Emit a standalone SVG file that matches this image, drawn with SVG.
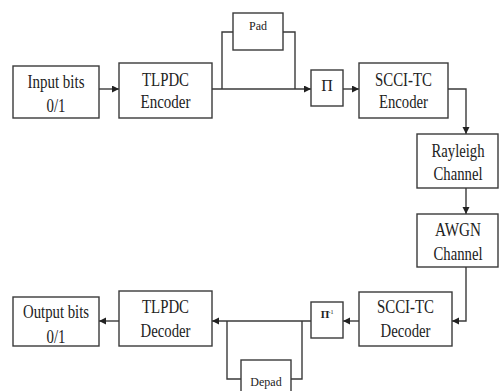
<svg xmlns="http://www.w3.org/2000/svg" width="499" height="391" viewBox="0 0 499 391">
<style>
.box{fill:#fff;stroke:#3a3a3a;stroke-width:1.4}
.t{font-family:"Liberation Serif","Times New Roman",serif;font-size:19px;fill:#222;text-anchor:middle}
.s{font-family:"Liberation Serif","Times New Roman",serif;font-size:12px;fill:#222;text-anchor:middle}
.c{fill:none;stroke:#3a3a3a;stroke-width:1.4}
</style>
<defs>
<marker id="ah" markerUnits="userSpaceOnUse" markerWidth="8" markerHeight="8" refX="7" refY="3.5" orient="auto">
<path d="M0,0 L7,3.5 L0,7 z" fill="#222"/>
</marker>
</defs>
<rect width="499" height="391" fill="#fff"/>
<g id="connectors">
<path class="c" d="M99,89 H119" marker-end="url(#ah)"/>
<path class="c" d="M212,89 H311" marker-end="url(#ah)"/>
<path class="c" d="M222,89 V32 H233"/>
<path class="c" d="M283,32 H295 V89"/>
<path class="c" d="M343,89 H359" marker-end="url(#ah)"/>
<path class="c" d="M448,89 H466 V134" marker-end="url(#ah)"/>
<path class="c" d="M466,188 V214" marker-end="url(#ah)"/>
<path class="c" d="M466,267 V321 H452" marker-end="url(#ah)"/>
<path class="c" d="M359,321 H343" marker-end="url(#ah)"/>
<path class="c" d="M311,321 H212" marker-end="url(#ah)"/>
<path class="c" d="M302,321 V379 H291"/>
<path class="c" d="M241,379 H227 V321"/>
<path class="c" d="M119,321 H99" marker-end="url(#ah)"/>
</g>
<g id="input">
<rect class="box" x="13" y="66" width="86" height="52"/>
<text class="t" x="56" y="88" textLength="57" lengthAdjust="spacingAndGlyphs">Input bits</text>
<text class="t" x="56" y="112" textLength="19" lengthAdjust="spacingAndGlyphs">0/1</text>
</g>
<g id="tlpdc-enc">
<rect class="box" x="119" y="63" width="93" height="55"/>
<text class="t" x="165.5" y="86" textLength="47" lengthAdjust="spacingAndGlyphs">TLPDC</text>
<text class="t" x="165.5" y="108" textLength="50" lengthAdjust="spacingAndGlyphs">Encoder</text>
</g>
<g id="pad">
<rect class="box" x="233" y="13" width="50" height="37"/>
<text class="s" x="258" y="30">Pad</text>
</g>
<g id="interleaver">
<rect class="box" x="311" y="70" width="32" height="36"/>
<text class="t" x="327" y="91" style="font-size:16px">Π</text>
</g>
<g id="scci-enc">
<rect class="box" x="359" y="63" width="89" height="55"/>
<text class="t" x="403.5" y="86" textLength="57" lengthAdjust="spacingAndGlyphs">SCCI-TC</text>
<text class="t" x="403.5" y="108" textLength="49" lengthAdjust="spacingAndGlyphs">Encoder</text>
</g>
<g id="rayleigh">
<rect class="box" x="417" y="134" width="81" height="54"/>
<text class="t" x="458" y="157" textLength="53" lengthAdjust="spacingAndGlyphs">Rayleigh</text>
<text class="t" x="458" y="180" textLength="49" lengthAdjust="spacingAndGlyphs">Channel</text>
</g>
<g id="awgn">
<rect class="box" x="417" y="214" width="81" height="53"/>
<text class="t" x="458" y="236" textLength="46" lengthAdjust="spacingAndGlyphs">AWGN</text>
<text class="t" x="458" y="260" textLength="49" lengthAdjust="spacingAndGlyphs">Channel</text>
</g>
<g id="scci-dec">
<rect class="box" x="359" y="292" width="93" height="54"/>
<text class="t" x="405.5" y="313" textLength="57" lengthAdjust="spacingAndGlyphs">SCCI-TC</text>
<text class="t" x="405.5" y="337" textLength="50" lengthAdjust="spacingAndGlyphs">Decoder</text>
</g>
<g id="deinterleaver">
<rect class="box" x="311" y="302" width="32" height="36"/>
<text x="325" y="318" style="font-family:'Liberation Serif',serif;font-size:11px;font-weight:bold;fill:#222;text-anchor:middle">Π</text>
<text x="331" y="314" style="font-family:'Liberation Serif',serif;font-size:6px;fill:#222;text-anchor:middle">-1</text>
</g>
<g id="depad">
<rect class="box" x="241" y="360" width="50" height="35"/>
<text class="s" x="266" y="386">Depad</text>
</g>
<g id="tlpdc-dec">
<rect class="box" x="119" y="291" width="93" height="55"/>
<text class="t" x="165.5" y="313" textLength="47" lengthAdjust="spacingAndGlyphs">TLPDC</text>
<text class="t" x="165.5" y="337" textLength="50" lengthAdjust="spacingAndGlyphs">Decoder</text>
</g>
<g id="output">
<rect class="box" x="13" y="297" width="86" height="49"/>
<text class="t" x="56" y="318" textLength="66" lengthAdjust="spacingAndGlyphs">Output bits</text>
<text class="t" x="56" y="343" textLength="19" lengthAdjust="spacingAndGlyphs">0/1</text>
</g>
</svg>
